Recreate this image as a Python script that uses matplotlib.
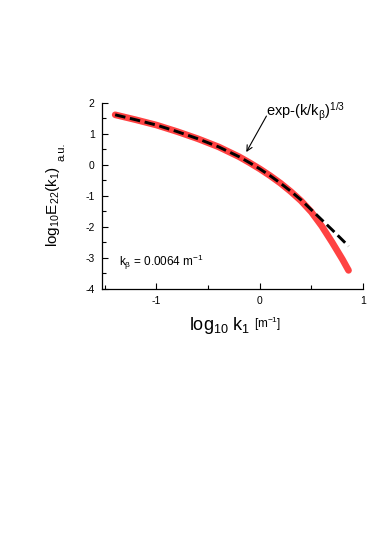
import matplotlib
matplotlib.use("Agg")
import matplotlib.pyplot as plt
from matplotlib.ticker import MultipleLocator

plt.rcParams['font.family'] = ['Liberation Sans', 'DejaVu Sans']
plt.rcParams['mathtext.fontset'] = 'custom'
plt.rcParams['mathtext.rm'] = 'Liberation Sans'
plt.rcParams['mathtext.it'] = 'Liberation Sans'
plt.rcParams['mathtext.default'] = 'regular'
plt.rcParams['axes.unicode_minus'] = False

# Measured spectrum (red)
log_k = [-1.40, -1.20, -1.00, -0.80, -0.60, -0.40, -0.20, -0.10, 0.00, 0.10,
         0.20, 0.30, 0.40, 0.50, 0.60, 0.70, 0.80, 0.86]
log_E = [1.61, 1.45, 1.28, 1.07, 0.84, 0.58, 0.26, 0.07, -0.13, -0.35,
         -0.59, -0.86, -1.16, -1.52, -1.97, -2.49, -3.04, -3.40]
# Stretched-exponential fit (black dashed)
fit_k = [-1.40, -1.20, -1.00, -0.80, -0.60, -0.40, -0.20, -0.10, 0.00, 0.10,
         0.20, 0.30, 0.40, 0.50, 0.60, 0.70, 0.80, 0.86]
fit_E = [1.61, 1.45, 1.28, 1.07, 0.84, 0.58, 0.26, 0.07, -0.13, -0.35,
         -0.59, -0.85, -1.13, -1.45, -1.77, -2.09, -2.42, -2.62]

fig = plt.figure(figsize=(3.74, 5.36), dpi=100)
ax = fig.add_axes([0.272, 0.4608, 0.6986, 0.3476])

ax.plot(log_k, log_E, color='#ff4242', lw=4.8, solid_capstyle='round', zorder=2)
ax.plot(fit_k, fit_E, color='black', lw=2.1, dashes=(3.6, 1.6), zorder=3)

ax.set_xlim(-1.53, 1.0)
ax.set_ylim(-4, 2)
ax.xaxis.set_major_locator(MultipleLocator(1))
ax.xaxis.set_minor_locator(MultipleLocator(0.5))
ax.yaxis.set_major_locator(MultipleLocator(1))
ax.yaxis.set_minor_locator(MultipleLocator(0.5))
ax.tick_params(which='both', direction='in', labelsize=7.5, width=0.8)
ax.tick_params(which='major', length=4, pad=5)
ax.tick_params(which='minor', length=3)
ax.spines['top'].set_visible(False)
ax.spines['right'].set_visible(False)
for s in ('left', 'bottom'):
    ax.spines[s].set_linewidth(0.9)

# x-axis title with mixed sizes
fig.text(0.668, 0.393, r'log$_{10}$ k$_1$', fontsize=13, ha='right', va='center')
fig.text(0.680, 0.395, r'[m$^{-1}$]', fontsize=8.5, ha='left', va='center')
# y-axis title with mixed sizes
fig.text(0.142, 0.615, r'log$_{10}$E$_{22}$(k$_1$)', fontsize=11, rotation=90,
         ha='center', va='center')
fig.text(0.164, 0.716, 'a.u.', fontsize=8, rotation=90, ha='center', va='center')

ax.text(-1.36, -3.15, r'k$_\beta$ = 0.0064 m$^{-1}$', fontsize=8.5, ha='left', va='center')
ax.text(0.06, 1.70, r'exp-(k/k$_\beta$)$^{1/3}$', fontsize=10.5, ha='left', va='center')
ax.annotate('', xy=(-0.13, 0.41), xytext=(0.065, 1.57),
            arrowprops=dict(arrowstyle='->', color='black', lw=0.8,
                            shrinkA=0, shrinkB=0, mutation_scale=10))

fig.savefig('out.png', dpi=100)
